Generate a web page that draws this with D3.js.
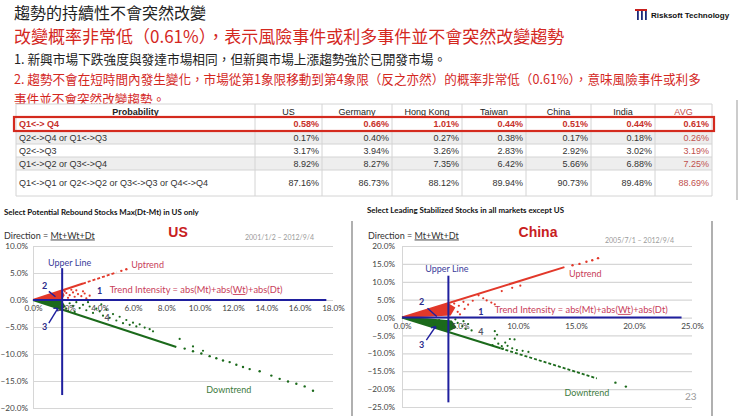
<!DOCTYPE html>
<html><head><meta charset="utf-8">
<script src="https://cdn.jsdelivr.net/npm/d3@7"></script>
<style>body{margin:0;background:#fff;}svg{display:block;}</style>
</head><body>
<script>
// ---------- DATA ----------
const titleText = "趨勢的持續性不會突然改變";
const subtitleText = "改變概率非常低（0.61%），表示風險事件或利多事件並不會突然改變趨勢";
const bullet1 = "1. 新興市場下跌強度與發達市場相同，但新興市場上漲趨勢強於已開發市場。";
const bullet2a = "2. 趨勢不會在短時間內發生變化，市場從第1象限移動到第4象限（反之亦然）的概率非常低（0.61%），意味風險事件或利多";
const bullet2b = "事件並不會突然改變趨勢。";

const tableColumns = ["Probability","US","Germany","Hong Kong","Taiwan","China","India","AVG"];
const rowLabels = ["Q1<-> Q4","Q2<->Q4 or Q1<->Q3","Q2<->Q3","Q1<->Q2 or Q3<->Q4","Q1<->Q1 or Q2<->Q2 or Q3<->Q3 or Q4<->Q4"];
const usValues      = [0.58,0.17,3.17,8.92,87.16];
const germanyValues = [0.66,0.40,3.94,8.27,86.73];
const hongKongValues= [1.01,0.27,3.26,7.35,88.12];
const taiwanValues  = [0.44,0.38,2.83,6.42,89.94];
const chinaValues   = [0.51,0.17,2.92,5.66,90.73];
const indiaValues   = [0.44,0.18,3.02,6.88,89.48];
const avgValues     = [0.61,0.26,3.19,7.25,88.69];

const usXTicks = [0,2,4,6,8,10,12,14,16,18];
const usYTicks = [-20,-15,-10,-5,0,5,10];
const cnXTicks = [0,5,10,15,20,25];
const cnYTicks = [-25,-20,-15,-10,-5,0,5,10,15,20];

// US chart
const usUpLine = [[0,0],[3.0,3.05]];
const usUpDash = [[3.0,3.05],[5.0,5.1]];
const usUpDots = [[5.3,5.4],[5.6,5.7]];
const usUpFill = [[0,0],[1.75,1.75],[1.9,0.9],[1.75,0.1],[0.8,0.05]];
const usUpScatter = [[2.0,1.3],[2.2,0.9],[2.4,1.4],[2.5,0.6],[2.7,1.1],[2.9,0.7],[3.1,1.2],[3.4,0.8],[2.6,1.8],[3.0,1.6],[2.1,0.4],[3.2,0.3],[1.9,1.6],[2.3,1.9]];
const usDownLine = [[0,0],[8.6,-8.7]];
const usDownDots = [[9.1,-9.0],[9.6,-9.5],[10.1,-9.9],[10.6,-10.4],[11.0,-10.8],[11.4,-11.2],[11.8,-11.5],[12.2,-12.0],[12.6,-12.4],[13.0,-12.8],[13.6,-13.2],[14.3,-14.0],[14.8,-14.6],[15.3,-15.1],[15.8,-15.5],[16.3,-16.0],[16.8,-16.8]];
const usDownFill = [[0,0],[1.75,-1.75],[1.95,-1.2],[1.75,-0.2],[0.8,-0.05]];
const usDownScatter = [[2.2,-0.6],[2.4,-1.1],[2.6,-0.4],[2.8,-1.5],[3.0,-0.9],[3.2,-1.9],[3.4,-1.2],[3.6,-2.4],[3.8,-1.6],[4.0,-2.1],[4.2,-2.9],[4.4,-1.8],[4.6,-3.3],[4.8,-2.6],[5.0,-3.8],[5.2,-3.1],[5.4,-4.3],[5.6,-3.7],[5.8,-4.6],[6.0,-4.2],[6.2,-4.9],[6.4,-4.5],[6.7,-5.1],[7.0,-5.4],[7.2,-5.8],[8.8,-7.2],[9.6,-8.6],[10.2,-9.4],[3.3,-0.4],[4.1,-0.8],[2.0,-1.6],[2.1,-2.0],[2.5,-2.2]];
const usTrendLine = [[0,0],[17.6,0]];
const usUpperLine = [[1.75,5.9],[1.75,-17.6]];

// China chart
const cnUpLine = [[0,0],[14.0,14.1]];
const cnUpDots = [[14.7,14.6],[15.3,15.0],[15.9,15.6],[16.4,16.0],[16.9,16.6]];
const cnUpFill = [[0,0],[4,4],[4.6,2.8],[4.2,0.6],[2.2,0.2]];
const cnUpScatter = [[4.5,3.9],[4.9,3.3],[5.3,4.4],[5.7,3.6],[6.1,4.7],[6.6,6.2],[7.0,5.4],[7.3,4.8],[7.7,4.2],[8.0,3.7],[8.6,7.4],[9.5,8.3],[10.2,8.9],[4.8,1.6],[5.4,2.4],[5.0,0.9],[3.3,1.8],[2.9,2.3],[3.6,2.9]];
const cnDownLine = [[0,0],[8.5,-8.6]];
const cnDownDash = [[8.5,-8.6],[16.8,-17.0]];
const cnDownDots = [[18.4,-18.2],[19.3,-19.3]];
const cnDownFill = [[0,0],[4.0,-4.0],[4.7,-2.8],[4.3,-0.8],[2.2,-0.2]];
const cnDownScatter = [[2.3,-1.0],[2.8,-1.6],[3.2,-0.7],[3.6,-2.2],[4.8,-1.5],[5.2,-2.4],[5.5,-3.2],[5.7,-1.8],[6.0,-3.6],[8.0,-5.9],[8.2,-4.8],[8.3,-7.3],[8.6,-8.0],[8.9,-7.0],[9.1,-7.9],[9.3,-6.0],[9.5,-8.6],[9.7,-6.1],[9.9,-9.1],[10.4,-9.3],[10.9,-9.6],[8.0,-3.8],[7.8,-7.7],[8.7,-8.7],[4.6,-0.5],[5.3,-1.0]];
const cnTrendLine = [[0,0],[24.1,0]];
const cnUpperLine = [[4.0,11.7],[4.0,-23.7]];

// ---------- DRAW ----------
const svg = d3.select("body").append("svg").attr("width",740).attr("height",416);
const CJK = "'Noto Sans CJK TC','Noto Sans CJK SC',sans-serif";
const RED = "#d4281f";

svg.append("text").attr("x",14).attr("y",19).text(titleText)
  .style("font-family",CJK).style("font-size","16px").attr("fill","#222");
svg.append("text").attr("x",14).attr("y",42.5).text(subtitleText)
  .style("font-family",CJK).style("font-size","17px").attr("fill",RED);
svg.append("text").attr("x",14).attr("y",64).text(bullet1)
  .style("font-family",CJK).style("font-size","12.7px").attr("fill","#222");
svg.append("text").attr("x",14).attr("y",84).text(bullet2a)
  .style("font-family",CJK).style("font-size","12.6px").attr("fill",RED);
svg.append("text").attr("x",14).attr("y",104).text(bullet2b)
  .style("font-family",CJK).style("font-size","12.6px").attr("fill",RED);

// logo
const logo = svg.append("g");
logo.append("rect").attr("x",635).attr("y",9).attr("width",12).attr("height",2).attr("fill","#c8201e");
[637,641,645].forEach(x=>logo.append("rect").attr("x",x).attr("y",11).attr("width",1.8).attr("height",9).attr("fill","#1d2a7a"));
logo.append("text").attr("x",651).attr("y",18).text("Risksoft Technology")
  .style("font-family","'Liberation Sans',Arial").style("font-size","8px").style("font-weight","bold").attr("fill","#111");

// table
const colEdges = [16,255,322,392,462,526,591,655,712];
const rowEdges = [104,117,131,144,157,170,196];
const seriesCols = [usValues,germanyValues,hongKongValues,taiwanValues,chinaValues,indiaValues,avgValues];
const tg = svg.append("g").style("font-family","'Liberation Sans',Arial").style("font-size","9px");
tg.append("rect").attr("x",colEdges[0]).attr("y",rowEdges[0]).attr("width",colEdges[8]-colEdges[0]).attr("height",rowEdges[6]-rowEdges[0]).attr("fill","#fff");
rowLabels.forEach((r,i)=>{
  if(i===1||i===3) tg.append("rect").attr("x",colEdges[0]).attr("y",rowEdges[i+1]).attr("width",colEdges[8]-colEdges[0]).attr("height",rowEdges[i+2]-rowEdges[i+1]).attr("fill","#eeeeee");
});
rowEdges.forEach(y=>tg.append("line").attr("x1",colEdges[0]).attr("x2",colEdges[8]).attr("y1",y).attr("y2",y).attr("stroke","#d4d4d4"));
colEdges.forEach(x=>tg.append("line").attr("x1",x).attr("x2",x).attr("y1",rowEdges[0]).attr("y2",rowEdges[6]).attr("stroke","#d4d4d4"));
tableColumns.forEach((c,j)=>{
  tg.append("text").attr("x",(colEdges[j]+colEdges[j+1])/2).attr("y",114.5).attr("text-anchor","middle").text(c)
    .attr("fill", j===7?"#c0504d":"#222").style("font-weight", j===0?"bold":"normal");
});
rowLabels.forEach((r,i)=>{
  const cy = (rowEdges[i+1]+rowEdges[i+2])/2 + 3.2;
  const red = i===0;
  tg.append("text").attr("x",colEdges[0]+3).attr("y",cy).text(r)
    .attr("fill", red?"#c8302a":"#333").style("font-weight", red?"bold":"normal");
  seriesCols.forEach((arr,j)=>{
    tg.append("text").attr("x",colEdges[j+2]-3).attr("y",cy).attr("text-anchor","end")
      .text(arr[i].toFixed(2)+"%")
      .attr("fill", red?"#c8302a":(j===6?"#c0504d":"#333"))
      .style("font-weight", red?"bold":"normal");
  });
});
tg.append("rect").attr("x",14).attr("y",117).attr("width",700).attr("height",14)
  .attr("fill","none").attr("stroke","#d42a1e").attr("stroke-width",2.2);
svg.append("line").attr("x1",737).attr("x2",737).attr("y1",100).attr("y2",200).attr("stroke","#bbb").attr("stroke-width",1.5);

// captions
const LAT = "Lato,'Open Sans',sans-serif";
svg.append("text").attr("x",4).attr("y",215).text("Select Potential Rebound Stocks Max(Dt-Mt) in US only")
  .style("font-family",LAT).style("font-size","7.9px").style("font-weight","bold").attr("fill","#111");
svg.append("text").attr("x",367).attr("y",213).text("Select Leading Stabilized Stocks in all markets except US")
  .style("font-family",LAT).style("font-size","7.9px").style("font-weight","bold").attr("fill","#111");

// frames
svg.append("line").attr("x1",352).attr("x2",352).attr("y1",221).attr("y2",416).attr("stroke","#b0b0b0").attr("stroke-width",2);
svg.append("line").attr("x1",712).attr("x2",712).attr("y1",221).attr("y2",416).attr("stroke","#b0b0b0").attr("stroke-width",2);

const NAVY = "#1f1f9e", UPRED = "#e2382a", GREEN = "#1b6a1b", LBLRED = "#c8405a";
const fmt = v => d3.format(".1f")(v)+"%";

function drawChart(o){
  const g = svg.append("g").style("font-family",LAT);
  const x=o.x, y=o.y;
  const w = x.range()[1]-x.range()[0];
  const ya = g.append("g").attr("transform",`translate(${x.range()[0]},0)`)
    .call(d3.axisLeft(y).tickValues(o.yTicks).tickFormat(fmt).tickSize(-w).tickPadding(o.yPad));
  ya.select(".domain").attr("stroke","#d6d6d6");
  ya.selectAll(".tick line").attr("stroke","#d6d6d6").attr("stroke-width",1.2);
  ya.selectAll(".tick text").attr("fill","#444").style("font-size","8.2px").style("font-family",LAT);
  const line = d3.line().x(d=>x(d[0])).y(d=>y(d[1]));
  g.append("path").attr("d",line(o.upFill)+"Z").attr("fill",UPRED);
  g.append("path").attr("d",line(o.downFill)+"Z").attr("fill",GREEN);
  g.append("path").attr("d",line(o.upLine)).attr("stroke",UPRED).attr("stroke-width",2).attr("fill","none");
  if(o.upDash) g.append("path").attr("d",line(o.upDash)).attr("stroke",UPRED).attr("stroke-width",1.8).attr("stroke-dasharray","3,2").attr("fill","none");
  g.append("path").attr("d",line(o.downLine)).attr("stroke",GREEN).attr("stroke-width",2).attr("fill","none");
  if(o.downDash) g.append("path").attr("d",line(o.downDash)).attr("stroke",GREEN).attr("stroke-width",1.8).attr("stroke-dasharray","3,2").attr("fill","none");
  const dots = (arr,col,r)=>g.append("g").selectAll("circle").data(arr).join("circle")
      .attr("cx",d=>x(d[0])).attr("cy",d=>y(d[1])).attr("r",r).attr("fill",col);
  dots(o.upScatter,UPRED,1.1); dots(o.upDots,UPRED,1.2);
  dots(o.downScatter,GREEN,1.1); dots(o.downDots,GREEN,1.2);
  const xa = g.append("g").attr("transform",`translate(0,${y(0)})`)
    .call(d3.axisBottom(x).tickValues(o.xTicks).tickFormat(fmt).tickSize(0).tickPadding(o.xPad));
  xa.select(".domain").remove();
  xa.selectAll(".tick text").attr("fill","#444").style("font-size","8.2px").style("font-family",LAT);
  g.append("path").attr("d",line(o.trendLine)).attr("stroke",NAVY).attr("stroke-width",2).attr("fill","none");
  g.append("path").attr("d",line(o.upperLine)).attr("stroke",NAVY).attr("stroke-width",2).attr("fill","none");
  const t = (px,py,txt,col,size,anchor,weight)=>g.append("text").attr("x",px).attr("y",py).text(txt)
     .attr("fill",col).style("font-size",size).attr("text-anchor",anchor||"start").style("font-weight",weight||"normal");
  const dl = g.append("text").attr("x",o.dirX).attr("y",o.dirY).attr("fill","#333").style("font-size","9px");
  dl.append("tspan").text("Direction = ");
  dl.append("tspan").text("Mt+Wt+Dt").style("text-decoration","underline");
  t(o.titleX,o.titleY,o.title,"#c8201e","14px","middle","bold").style("font-family","'Liberation Sans',Arial");
  t(o.dateX,o.dateY,o.date,"#9a9a9a","7px");
  t(x(o.upperLbl[0]),y(o.upperLbl[1]),"Upper Line","#3b3b9a","9px");
  t(x(o.upLbl[0]),y(o.upLbl[1]),"Uptrend",LBLRED,"9px");
  t(x(o.downLbl[0]),y(o.downLbl[1]),"Downtrend","#3d7a3d","9px");
  const ti = g.append("text").attr("x",x(o.tiLbl[0])).attr("y",y(o.tiLbl[1])).attr("fill",LBLRED).style("font-size","9.3px");
  ti.append("tspan").text("Trend Intensity = abs(Mt)+abs(");
  ti.append("tspan").text("Wt").style("text-decoration","underline");
  ti.append("tspan").text(")+abs(Dt)");
  o.nums.forEach(n=>t(x(n[1]),y(n[2]),n[0],n[0]==="4"?"#556":"#2a2a8a","9px","middle","bold"));
  o.arrows.forEach(a=>{
    g.append("path").attr("d",line(a)).attr("stroke",NAVY).attr("stroke-width",1.4).attr("fill","none");
  });
  if(o.page) t(o.page[0],o.page[1],"23","#9a9a9a","10px");
}

drawChart({
  x: d3.scaleLinear().domain([0,18]).range([33,333]),
  y: d3.scaleLinear().domain([-20,10]).range([408,246]),
  xTicks: usXTicks, yTicks: usYTicks, yPad: 5, xPad: 5,
  upFill: usUpFill, downFill: usDownFill, upLine: usUpLine, upDash: usUpDash, downLine: usDownLine,
  upScatter: usUpScatter, upDots: usUpDots, downScatter: usDownScatter, downDots: usDownDots,
  trendLine: usTrendLine, upperLine: usUpperLine,
  dirX: 4, dirY: 238.5, title: "US", titleX: 178, titleY: 237,
  date: "2001/1/2 – 2012/9/4", dateX: 245, dateY: 240,
  upperLbl: [0.9,6.3], upLbl: [5.9,5.9], downLbl: [10.4,-17.3], tiLbl: [4.6,1.3],
  nums: [["1",4.0,1.2],["2",0.7,2.0],["3",0.7,-5.6],["4",4.45,-3.9]],
  arrows: [[[0.95,-4.3],[1.5,-1.5]],[[1.45,-1.5],[1.22,-1.55]],[[1.45,-1.5],[1.5,-2.1]],[[0.95,1.6],[1.35,0.6]]]
});
drawChart({
  x: d3.scaleLinear().domain([0,25]).range([402,692]),
  y: d3.scaleLinear().domain([-25,20]).range([407,246]),
  xTicks: cnXTicks, yTicks: cnYTicks, yPad: 7, xPad: 6,
  upFill: cnUpFill, downFill: cnDownFill, upLine: cnUpLine, downLine: cnDownLine, downDash: cnDownDash,
  upScatter: cnUpScatter, upDots: cnUpDots, downScatter: cnDownScatter, downDots: cnDownDots,
  trendLine: cnTrendLine, upperLine: cnUpperLine,
  dirX: 368, dirY: 238.5, title: "China", titleX: 538, titleY: 237,
  date: "2005/7/1 – 2012/9/4", dateX: 605, dateY: 243,
  upperLbl: [2.0,12.6], upLbl: [14.4,11.4], downLbl: [14.0,-21.9], tiLbl: [8.0,1.3],
  nums: [["1",6.8,0.6],["2",1.7,3.4],["3",1.7,-8.6],["4",6.8,-5.0]],
  arrows: [[[2.1,-6.3],[2.9,-2.5]],[[2.9,-2.5],[2.5,-2.9]],[[2.9,-2.5],[2.9,-3.2]],[[2.2,2.6],[3.0,0.3]]],
  page: [685,400]
});
</script>
</body></html>
